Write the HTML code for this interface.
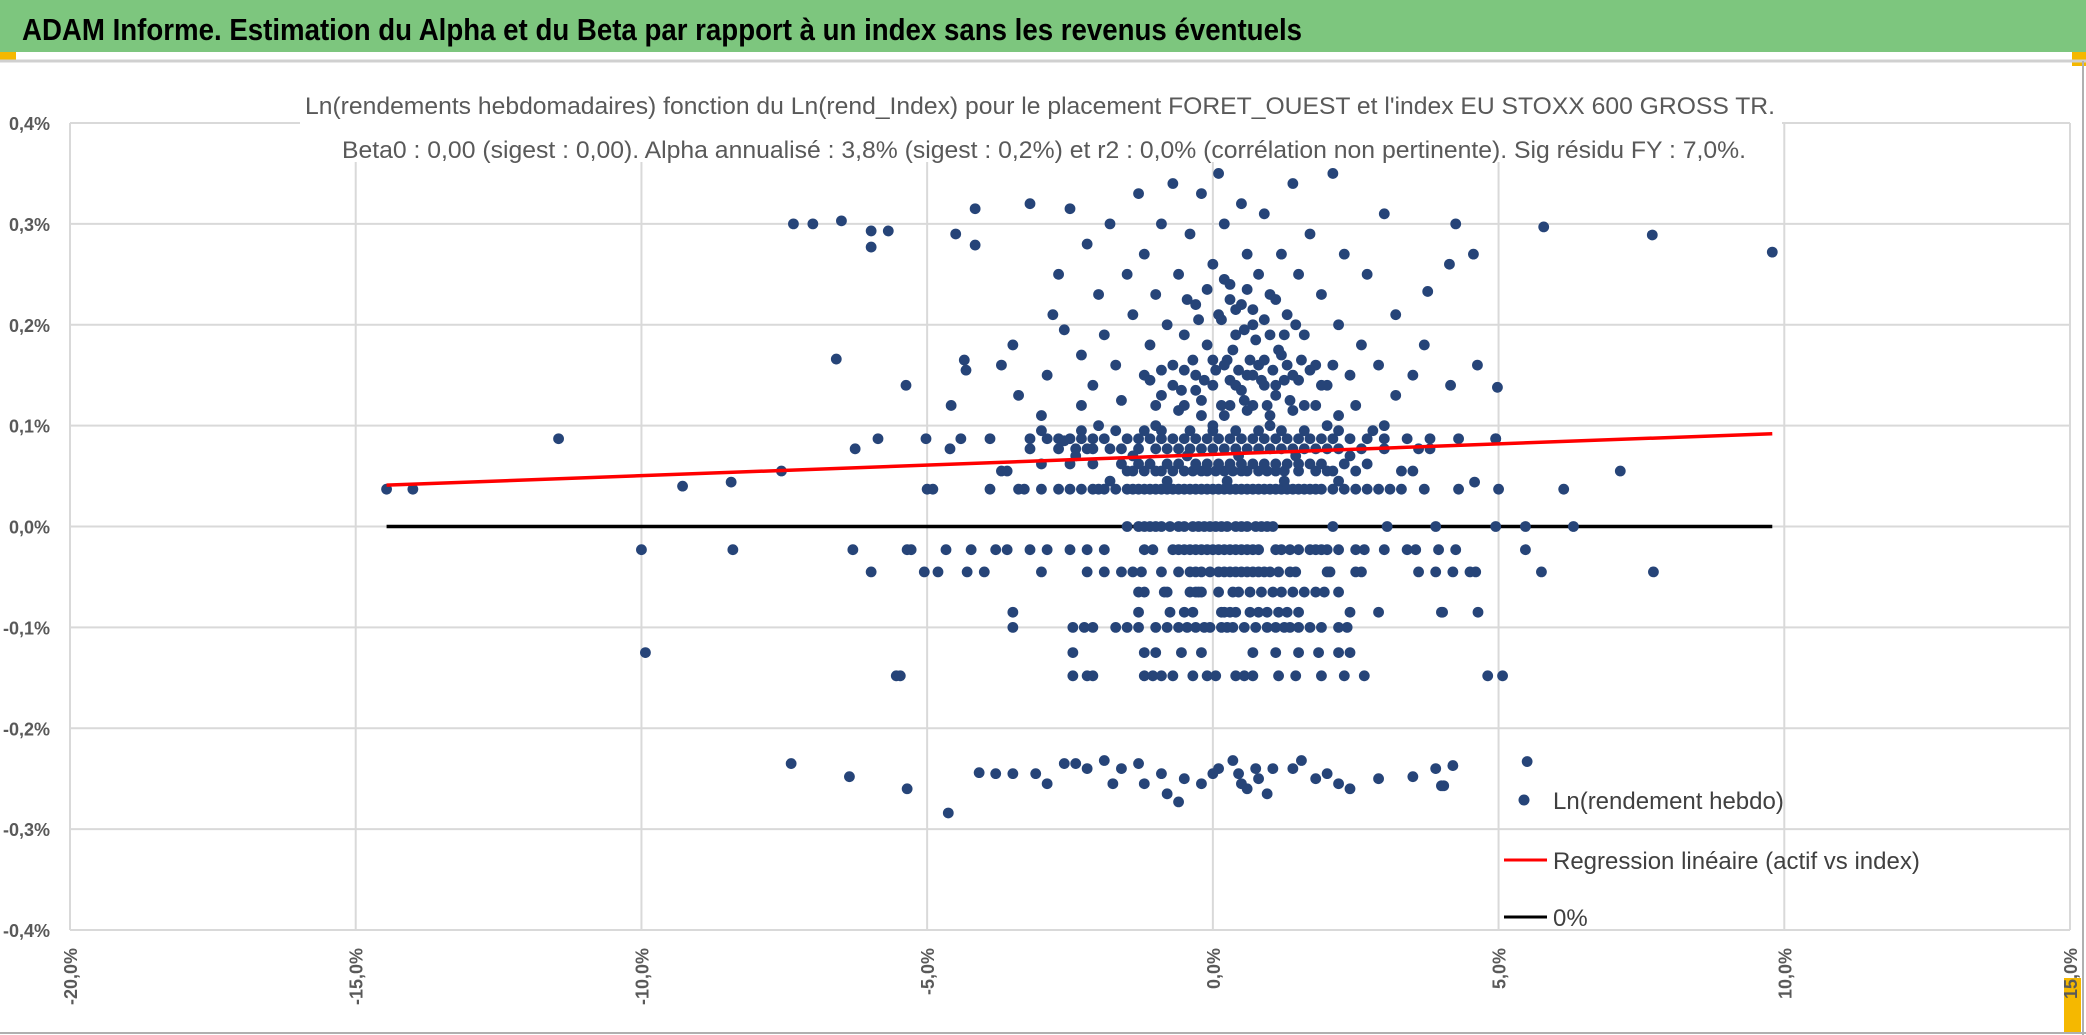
<!DOCTYPE html>
<html><head><meta charset="utf-8"><style>
html,body{margin:0;padding:0;background:#fff}
svg{display:block;font-family:"Liberation Sans",sans-serif}
</style></head><body>
<svg id="chart" width="2086" height="1035" viewBox="0 0 2086 1035" xmlns="http://www.w3.org/2000/svg">
<rect x="0" y="0" width="2086" height="1035" fill="#fff"/>
<rect x="0" y="0" width="2086" height="52" fill="#7dc67e"/>
<text x="22" y="40" font-size="31" font-weight="bold" fill="#000" textLength="1280" lengthAdjust="spacingAndGlyphs">ADAM Informe. Estimation du Alpha et du Beta par rapport à un index sans les revenus éventuels</text>
<rect x="0" y="52" width="16" height="8" fill="#f5b800"/>
<rect x="2072" y="52" width="14" height="14" fill="#f5b800"/>
<line x1="0" y1="61" x2="2086" y2="61" stroke="#d0d0d0" stroke-width="3"/>
<line x1="2083" y1="61" x2="2083" y2="1035" stroke="#b0b0b0" stroke-width="2"/>
<line x1="0" y1="1033" x2="2086" y2="1033" stroke="#b0b0b0" stroke-width="2"/>
<rect x="2064" y="978" width="17" height="54" fill="#f5b800"/>
<g id="grid"></g>
<rect x="300" y="90" width="1482" height="72" fill="#fff"/>
<text x="1040" y="114" font-size="24" fill="#595959" text-anchor="middle" textLength="1470" lengthAdjust="spacingAndGlyphs">Ln(rendements hebdomadaires) fonction du Ln(rend_Index) pour le placement FORET_OUEST et l'index EU STOXX 600 GROSS TR.</text>
<text x="1044" y="158" font-size="24" fill="#595959" text-anchor="middle" textLength="1404" lengthAdjust="spacingAndGlyphs">Beta0 : 0,00 (sigest : 0,00). Alpha annualisé : 3,8% (sigest : 0,2%) et r2 : 0,0% (corrélation non pertinente). Sig résidu FY : 7,0%.</text>
<g id="lines"></g>
<g id="points"></g>
<g id="axes"></g>
<g>
<circle cx="1524" cy="800" r="5.5" fill="#264478"/>
<text x="1553" y="809" font-size="24" fill="#404040">Ln(rendement hebdo)</text>
<line x1="1504" y1="860" x2="1547" y2="860" stroke="#ff0000" stroke-width="3"/>
<text x="1553" y="869" font-size="24" fill="#404040">Regression linéaire (actif vs index)</text>
<line x1="1504" y1="917" x2="1547" y2="917" stroke="#000" stroke-width="3"/>
<text x="1553" y="926" font-size="24" fill="#404040">0%</text>
</g>
</svg>
<script>
const xTicks=[-20,-15,-10,-5,0,5,10,15];
const yTicks=[0.4,0.3,0.2,0.1,0,-0.1,-0.2,-0.3,-0.4];
const regression=[[-14.46,0.041],[9.79,0.092]];
const zeroLine=[[-14.46,0],[9.79,0]];
const levelValues=[0,-0.023,-0.045,-0.065,-0.085,-0.1,-0.125,-0.148,0.037,0.055,0.062,0.077,0.087,0.095];
const levelXs=[
[-1.5,-1.3,-1.2,-1.1,-1.0,-0.9,-0.75,-0.6,-0.5,-0.35,-0.25,-0.15,-0.05,0.05,0.15,0.25,0.4,0.5,0.6,0.75,0.85,0.95,1.05,2.1,3.05,3.9,4.95,5.47,6.31],
[-10,-8.4,-6.3,-5.35,-5.28,-4.67,-4.23,-3.8,-3.6,-3.2,-2.9,-2.5,-2.2,-1.9,-1.2,-1.05,-0.7,-0.6,-0.5,-0.4,-0.3,-0.2,-0.1,0,0.1,0.2,0.3,0.4,0.5,0.6,0.7,0.8,1.1,1.2,1.35,1.5,1.7,1.8,1.9,2.0,2.2,2.5,2.65,3.0,3.4,3.55,3.95,4.25,5.47],
[-5.98,-5.05,-4.81,-4.3,-4.0,-3.0,-2.2,-1.9,-1.6,-1.4,-1.25,-0.9,-0.6,-0.4,-0.3,-0.2,-0.05,0.1,0.2,0.3,0.4,0.5,0.6,0.7,0.8,0.9,1.0,1.15,1.35,1.45,2.0,2.05,2.5,2.6,3.6,3.9,4.2,4.5,4.6,5.75,7.71],
[-1.3,-1.2,-0.85,-0.8,-0.4,-0.3,-0.25,-0.2,0.1,0.35,0.45,0.65,0.85,1.05,1.2,1.4,1.6,1.8,1.95,2.2],
[-3.5,-1.3,-0.75,-0.5,-0.35,0.15,0.2,0.3,0.4,0.65,0.8,0.95,1.15,1.3,1.5,2.4,2.9,4.0,4.64],
[-3.5,-2.45,-2.25,-2.1,-1.7,-1.5,-1.3,-1.0,-0.8,-0.6,-0.45,-0.3,-0.15,-0.05,0.15,0.25,0.35,0.55,0.75,0.95,1.1,1.25,1.35,1.5,1.7,1.9,2.2,2.35],
[-9.93,-2.45,-1.2,-1.0,-0.55,-0.2,0.7,1.1,1.5,1.85,2.2,2.4],
[-5.54,-5.47,-2.45,-2.2,-2.1,-1.2,-1.05,-0.9,-0.7,-0.35,-0.1,0.05,0.4,0.55,0.7,1.15,1.45,1.9,2.3,2.65,4.81,5.07],
[-14.46,-14.0,-5.0,-4.9,-3.9,-3.4,-3.3,-3.0,-2.7,-2.5,-2.3,-2.1,-2.0,-1.9,-1.7,-1.5,-1.4,-1.3,-1.2,-1.1,-1.0,-0.9,-0.8,-0.7,-0.6,-0.5,-0.4,-0.3,-0.2,-0.1,0,0.1,0.2,0.3,0.4,0.5,0.6,0.7,0.8,0.9,1.0,1.1,1.2,1.3,1.4,1.5,1.6,1.7,1.8,1.9,2.1,2.3,2.5,2.7,2.9,3.1,3.3,3.7,4.3,5.0,6.14],
[-7.55,-3.7,-3.6,-1.5,-1.4,-1.2,-1.0,-0.9,-0.7,-0.5,-0.35,-0.2,-0.1,0.05,0.2,0.35,0.5,0.6,0.8,0.95,1.1,1.25,1.5,1.8,2.0,2.1,2.5,3.3,3.5,7.13],
[-3.0,-2.5,-2.1,-1.6,-1.3,-1.1,-0.8,-0.6,-0.3,-0.1,0.1,0.3,0.5,0.7,0.9,1.1,1.3,1.5,1.7,1.9,2.3,2.7],
[-6.26,-4.6,-3.2,-2.7,-2.4,-2.2,-2.1,-1.8,-1.6,-1.3,-1.0,-0.8,-0.6,-0.4,-0.2,0.0,0.2,0.4,0.6,0.8,1.0,1.2,1.4,1.6,1.8,2.0,2.2,2.6,3.0,3.6,3.8],
[-11.45,-5.86,-5.02,-4.41,-3.9,-3.2,-2.9,-2.7,-2.5,-2.3,-2.1,-1.9,-1.5,-1.3,-1.1,-0.9,-0.7,-0.5,-0.3,-0.1,0.1,0.3,0.5,0.7,0.9,1.1,1.3,1.5,1.7,1.9,2.1,2.4,2.7,3.0,3.4,3.8,4.3,4.95],
[-3.0,-2.3,-1.7,-1.2,-0.9,-0.4,0,0.4,0.8,1.2,1.6,2.2,2.8]
];
const scatterPoints=[
[-9.28,0.04],[-8.43,0.044],[-7.38,-0.235],[-6.36,-0.248],[-5.35,-0.26],[-4.63,-0.284],[-4.09,-0.244],[-3.8,-0.245],[-3.5,-0.245],[-3.1,-0.245],[-2.9,-0.255],[-2.6,-0.235],[-2.4,-0.235],[-2.2,-0.24],[-1.9,-0.232],[-1.75,-0.255],[-1.6,-0.24],[-1.3,-0.235],[-1.2,-0.255],[-0.9,-0.245],[-0.8,-0.265],[-0.6,-0.273],[-0.5,-0.25],[-0.2,-0.255],[0,-0.245],[0.1,-0.24],[0.35,-0.232],[0.45,-0.245],[0.5,-0.255],[0.6,-0.26],[0.75,-0.24],[0.8,-0.25],[0.95,-0.265],[1.05,-0.24],[1.4,-0.24],[1.55,-0.232],[1.8,-0.25],[2.0,-0.245],[2.2,-0.255],[2.4,-0.26],[2.9,-0.25],[3.5,-0.248],[3.9,-0.24],[4.0,-0.257],[4.2,-0.237],[5.5,-0.233],
[-4.58,0.12],[-5.37,0.14],[-4.35,0.165],[-4.32,0.155],[-6.59,0.166],[-4.16,0.279],[-4.16,0.315],[-4.5,0.29],[-5.98,0.293],[-5.98,0.277],[-5.68,0.293],[-7.34,0.30],[-7.0,0.30],[-6.5,0.303],
[-3.7,0.16],[-3.5,0.18],[-3.4,0.13],[-3.2,0.32],[-3.0,0.11],[-2.9,0.15],[-2.8,0.21],[-2.7,0.25],[-2.6,0.195],[-2.5,0.315],[-2.3,0.12],[-2.3,0.17],[-2.2,0.28],[-2.1,0.14],[-2.0,0.23],[-1.9,0.19],[-1.8,0.3],[-1.7,0.16],[-1.6,0.125],[-1.5,0.25],[-1.4,0.21],[-1.3,0.33],[-1.2,0.15],[-1.2,0.27],[-1.1,0.18],[-1.0,0.23],[-0.9,0.13],[-0.9,0.3],[-0.8,0.2],[-0.7,0.16],[-0.7,0.34],[-0.6,0.25],[-0.5,0.12],[-0.5,0.19],[-0.4,0.29],[-0.3,0.15],[-0.3,0.22],[-0.2,0.33],[-0.2,0.11],[-0.1,0.18],[0,0.26],[0,0.14],[0.1,0.21],[0.1,0.35],[0.2,0.16],[0.2,0.3],[0.3,0.12],[0.3,0.24],[0.4,0.19],[0.4,0.14],[0.5,0.22],[0.5,0.32],[0.6,0.15],[0.6,0.27],[0.7,0.2],[0.7,0.12],[0.8,0.25],[0.8,0.16],[0.9,0.31],[0.9,0.14],[1.0,0.19],[1.0,0.23],[1.1,0.13],[1.2,0.27],[1.2,0.17],[1.3,0.21],[1.4,0.15],[1.4,0.34],[1.5,0.25],[1.6,0.12],[1.6,0.19],[1.7,0.29],[1.8,0.16],[1.9,0.23],[2.0,0.14],[2.1,0.35],[2.2,0.2],[2.3,0.27],[2.4,0.15],[2.5,0.12],[2.6,0.18],[2.7,0.25],[2.9,0.16],[3.0,0.31],[3.2,0.13],[3.2,0.21],[3.5,0.15],[3.7,0.18],[3.0,0.1],[2.0,0.1],[1.0,0.1],[0.0,0.1],[-1.0,0.1],[-2.0,0.1],
[0.05,0.155],[0.25,0.165],[0.45,0.155],[0.65,0.165],[0.85,0.145],[1.05,0.155],[1.25,0.145],[-0.15,0.145],[-0.35,0.165],[0.15,0.12],[0.55,0.125],[0.95,0.12],[1.35,0.125],[-0.55,0.135],[0.35,0.175],[0.75,0.185],[1.15,0.175],[1.55,0.165],[0.2,0.245],[0.6,0.235],[0.4,0.215],[0.9,0.205],[-0.25,0.205],[1.45,0.2],
[4.95,0.087],[4.98,0.138],[5.79,0.297],[7.69,0.289],[9.79,0.272],[4.58,0.044],[4.63,0.16],[4.56,0.27],[4.25,0.30],[4.04,-0.257],[4.14,0.26],[4.02,-0.085],[4.16,0.14],[3.76,0.233]
];
const extraPoints=[
[-1.1,0.145],[-0.9,0.155],[-0.7,0.14],[-0.5,0.155],[-0.3,0.135],[0.0,0.165],[0.3,0.145],[0.5,0.135],[0.7,0.15],[0.9,0.165],[1.1,0.14],[1.3,0.16],[1.5,0.145],[1.7,0.155],[1.9,0.14],[2.1,0.16],
[-1.0,0.12],[-0.6,0.115],[-0.2,0.125],[0.2,0.11],[0.6,0.115],[1.0,0.11],[1.4,0.115],[1.8,0.12],[2.2,0.11],
[-0.1,0.235],[0.3,0.225],[0.7,0.215],[1.1,0.225],[0.15,0.205],[0.55,0.195],[1.25,0.19],[-0.45,0.225],
[-2.6,0.085],[-2.4,0.07],[-1.4,0.07],[-0.45,0.07],[0.45,0.07],[1.45,0.07],[2.4,0.07],[-1.8,0.045],[-0.8,0.045],[0.25,0.045],[1.25,0.045],[2.2,0.045]
];
const NS="http://www.w3.org/2000/svg";
const X0=70,X1=2070,Y0=123,Y1=930;
function sx(v){return X0+(v+20)/35*(X1-X0);}
function sy(v){return Y0+(0.4-v)/0.8*(Y1-Y0);}
function mk(tag,attrs,parent){const e=document.createElementNS(NS,tag);for(const k in attrs)e.setAttribute(k,attrs[k]);parent.appendChild(e);return e;}
const grid=document.getElementById('grid'),axes=document.getElementById('axes');
xTicks.forEach(t=>{
 const l=mk('line',{x1:sx(t),x2:sx(t),y1:Y0,y2:Y1,stroke:'#d9d9d9','stroke-width':2},grid);
 
 
 const tx=mk('text',{transform:`translate(${sx(t)+7},948) rotate(-90)`,'text-anchor':'end','font-size':18,'font-weight':'bold',fill:'#595959'},axes);
 tx.textContent=t.toFixed(1).replace('.',',')+'%';
 
 
});
yTicks.forEach(t=>{
 const l=mk('line',{x1:X0,x2:X1,y1:sy(t),y2:sy(t),stroke:'#d9d9d9','stroke-width':2},grid);
 
 
 const tx=mk('text',{x:50,y:sy(t)+7,'text-anchor':'end','font-size':18,'font-weight':'bold',fill:'#595959'},axes);
 tx.textContent=t.toFixed(1).replace('.',',').replace('-0,0','0,0')+'%';
 
 
});
const lines=document.getElementById('lines');
const zl=mk('line',{x1:sx(zeroLine[0][0]),y1:sy(zeroLine[0][1]),x2:sx(zeroLine[1][0]),y2:sy(zeroLine[1][1]),stroke:'#000','stroke-width':3.5},lines);


const pts=document.getElementById('points');
function dot(x,y){const c=mk('circle',{cx:sx(x),cy:sy(y),r:5.4,fill:'#264478'},pts);
 
 }
levelValues.forEach((y,i)=>levelXs[i].forEach(x=>dot(x,y)));
scatterPoints.forEach(p=>dot(p[0],p[1]));
extraPoints.forEach(p=>dot(p[0],p[1]));
const rl=mk('line',{x1:sx(regression[0][0]),y1:sy(regression[0][1]),x2:sx(regression[1][0]),y2:sy(regression[1][1]),stroke:'#ff0000','stroke-width':3.5},pts);


</script>
</body></html>
